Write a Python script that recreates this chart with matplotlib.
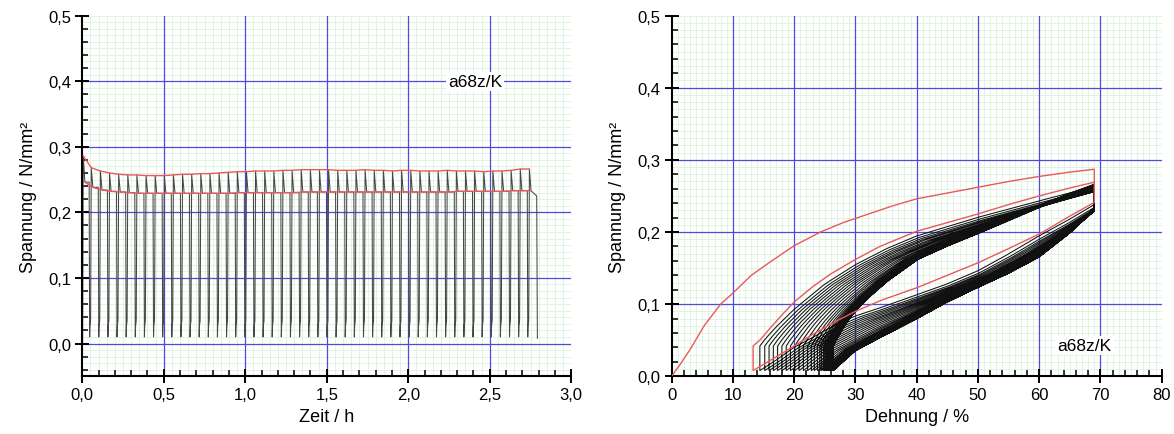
import numpy as np
import matplotlib.pyplot as plt
from matplotlib.ticker import MultipleLocator, FuncFormatter

plt.rcParams['font.family'] = ['Liberation Sans', 'DejaVu Sans']

# ---- values ----
# peak and relaxed stress of each of the 50 cycles (N/mm²)
peak = [0.286, 0.268, 0.263, 0.260, 0.258, 0.257, 0.257, 0.256, 0.256, 0.256,
        0.257, 0.258, 0.258, 0.259, 0.259, 0.260, 0.261, 0.262, 0.262, 0.263,
        0.263, 0.263, 0.264, 0.264, 0.265, 0.265, 0.265, 0.265, 0.264, 0.264,
        0.264, 0.265, 0.264, 0.264, 0.263, 0.264, 0.264, 0.263, 0.263, 0.263,
        0.264, 0.263, 0.263, 0.263, 0.262, 0.263, 0.263, 0.264, 0.266, 0.266]
relax = [0.246, 0.238, 0.234, 0.232, 0.231, 0.230, 0.229, 0.229, 0.229, 0.229,
         0.229, 0.229, 0.229, 0.229, 0.229, 0.229, 0.229, 0.230, 0.230, 0.230,
         0.230, 0.230, 0.230, 0.230, 0.231, 0.231, 0.231, 0.231, 0.231, 0.231,
         0.231, 0.231, 0.231, 0.231, 0.231, 0.231, 0.231, 0.231, 0.231, 0.231,
         0.231, 0.232, 0.232, 0.232, 0.232, 0.232, 0.232, 0.233, 0.233, 0.233]

# timing of the cycles (h)
t_first = 0.002
t_second = 0.051
period = 0.056
t_last_down = 2.788
s_min = 0.01
s_hook = 0.035
s_last_hold = 0.225

# strain at the start of each loading (cycle 0..49) and end of the last unloading (%)
eps_min = [0.0, 13.3, 14.4, 15.2, 15.9, 16.6, 17.3, 18.0, 18.7, 19.4,
           20.1, 20.8, 21.5, 22.2, 22.8, 23.3, 23.8, 24.2, 24.5, 24.8,
           25.0, 25.2, 25.35, 25.5, 25.6, 25.7, 25.75, 25.8, 25.85, 25.9,
           25.95, 26.0, 26.0, 26.05, 26.1, 26.1, 26.15, 26.2, 26.2, 26.2,
           26.25, 26.25, 26.3, 26.3, 26.3, 26.3, 26.35, 26.35, 26.35, 26.4, 26.4]
eps_max = 69.0

# first cycle (red) in the stress-strain plot
red_load1_eps = [0, 1.5, 3, 5.3, 8, 10.2, 13, 16, 20, 24.3, 28, 32.5, 36, 40, 45, 50, 55, 60, 65, 69]
red_load1_sig = [0, 0.018, 0.037, 0.07, 0.1, 0.117, 0.14, 0.158, 0.181, 0.2, 0.213, 0.226,
                 0.236, 0.246, 0.254, 0.262, 0.27, 0.277, 0.283, 0.287]
red_unload1_eps = [69, 65, 60.2, 55, 50.2, 45, 40.1, 34.1, 30, 27, 23, 20, 16.5, 13.3]
red_unload1_sig = [0.241, 0.222, 0.198, 0.177, 0.158, 0.14, 0.123, 0.105, 0.09, 0.077,
                   0.058, 0.042, 0.024, 0.008]
red_load2_eps = [13.3, 14.5, 16, 18, 20, 23, 26, 30, 34, 40, 45, 50, 55, 60, 65, 69]
red_load2_sig = [0.042, 0.051, 0.066, 0.085, 0.103, 0.124, 0.142, 0.162, 0.18, 0.201,
                 0.213, 0.225, 0.238, 0.25, 0.261, 0.269]

# first and last black loading / unloading curves
load_first_eps = [14.4, 15.3, 17, 20, 25, 30, 35, 40, 50, 60, 69]
load_first_sig = [0.042, 0.052, 0.068, 0.093, 0.128, 0.155, 0.177, 0.195, 0.221, 0.244, 0.264]
load_last_eps = [26.0, 26.6, 27.5, 28.5, 30, 32, 35, 40, 45, 50, 55, 60, 65, 69]
load_last_sig = [0.042, 0.052, 0.065, 0.078, 0.093, 0.11, 0.132, 0.162, 0.181, 0.198,
                 0.216, 0.234, 0.25, 0.262]
unload_first_eps = [14.4, 17, 20, 24, 27, 30, 35, 40, 45, 50, 55, 60, 65, 69]
unload_first_sig = [0.008, 0.022, 0.04, 0.058, 0.072, 0.083, 0.097, 0.112, 0.127, 0.145,
                    0.168, 0.193, 0.216, 0.236]
unload_last_eps = [26.4, 28, 30, 35, 40, 45, 50, 55, 60, 65, 69]
unload_last_sig = [0.008, 0.02, 0.035, 0.057, 0.078, 0.101, 0.121, 0.14, 0.162, 0.195, 0.227]

n = len(peak)

GREEN = '#dcf2dc'
BLUE = '#4b4bdc'
RED = '#e8595b'


def comma(v, _):
    return f'{v:.1f}'.replace('.', ',')


def blend(first_e, first_s, last_e, last_s, e0, s_end):
    # curve between the first and the last measured branch, ending at s_end
    u = np.linspace(0, 1, 80)
    fe = np.asarray(first_e, float)
    le = np.asarray(last_e, float)
    sf = np.interp(u, (fe - fe[0]) / (eps_max - fe[0]), first_s)
    sl = np.interp(u, (le - le[0]) / (eps_max - le[0]), last_s)
    w = np.clip((e0 - fe[0]) / (le[0] - fe[0]), 0, 1)
    s = (1 - w) * sf + w * sl
    s = s + (s_end - s[-1]) * u
    return e0 + u * (eps_max - e0), s


def style_axes(ax, xlim, ylim, xmaj, xmin_t, xgrid, ymaj, ymin_t, ygrid):
    ax.set_xlim(*xlim)
    ax.set_ylim(*ylim)
    # light green fine grid
    for x in np.arange(xlim[0] + xgrid, xlim[1] + 1e-9, xgrid):
        ax.axvline(x, color=GREEN, lw=0.6, zorder=0)
    for y in np.arange(ylim[0], ylim[1] + 1e-9, ygrid):
        ax.axhline(y, color=GREEN, lw=0.6, zorder=0)
    # blue main grid
    for x in np.arange(xlim[0] + xmaj, xlim[1] - 1e-9, xmaj):
        ax.axvline(x, color=BLUE, lw=0.9, zorder=1)
    for y in np.arange(0, ylim[1] - 1e-9, ymaj):
        if y > ylim[0] + 1e-9:
            ax.axhline(y, color=BLUE, lw=0.9, zorder=1)
    ax.xaxis.set_major_locator(MultipleLocator(xmaj))
    ax.xaxis.set_minor_locator(MultipleLocator(xmin_t))
    ax.yaxis.set_major_locator(MultipleLocator(ymaj))
    ax.yaxis.set_minor_locator(MultipleLocator(ymin_t))
    ax.yaxis.set_major_formatter(FuncFormatter(comma))
    for s in ['top', 'right']:
        ax.spines[s].set_visible(False)
    for s in ['left', 'bottom']:
        ax.spines[s].set_linewidth(1.5)
    ax.tick_params(which='major', direction='inout', length=10, width=1.4, labelsize=12, pad=3)
    ax.tick_params(which='minor', direction='in', length=4, width=1.1)


fig = plt.figure(figsize=(11.74, 4.35), dpi=100)
ax1 = fig.add_axes([0.0701, 0.1326, 0.4165, 0.8294])
ax2 = fig.add_axes([0.5721, 0.1326, 0.4174, 0.8294])

# ---- left: stress over time ----
t_up = np.r_[t_first, t_second + period * np.arange(n - 1)]
ts, ss = [], []
for k in range(n):
    t0 = t_up[k]
    ts += [t0, t0 + 0.004, t0 + 0.014]
    ss += [0.0 if k == 0 else s_hook, peak[k], relax[k]]
    if k < n - 1:
        td = t_up[k + 1] - 0.009
        ts += [td, td + 0.003, td + 0.005]
        ss += [relax[k], s_min, 0.027]
    else:
        ts += [t_last_down, t_last_down + 0.004]
        ss += [s_last_hold, 0.008]
ax1.plot(ts, ss, color='#474747', lw=0.75, zorder=2)
ax1.plot(t_up + 0.004, peak, color=RED, lw=1.0, zorder=3)
ax1.plot(t_up + 0.014, relax, color=RED, lw=1.0, zorder=3)

style_axes(ax1, (0, 3.0), (-0.05, 0.5), 0.5, 0.1, 0.05, 0.1, 0.02, 0.01)
ax1.xaxis.set_major_formatter(FuncFormatter(comma))
ax1.set_xlabel('Zeit / h', fontsize=13, labelpad=4)
ax1.set_ylabel('Spannung / N/mm²', fontsize=13, labelpad=8)
ax1.text(2.245, 0.4, 'a68z/K', fontsize=12.5, va='center', ha='left', zorder=4,
         bbox=dict(facecolor='white', edgecolor='none', pad=1.5))

# ---- right: stress over strain ----
es, sg = [], []
es += [eps_max, eps_max]
sg += [red_load2_sig[-1], relax[1]]
for k in range(1, n):
    e_u, s_u = blend(unload_first_eps, unload_first_sig, unload_last_eps, unload_last_sig,
                     eps_min[k + 1], relax[k])
    es += list(e_u[::-1])
    sg += list(s_u[::-1])
    if k + 1 < n:
        e_l, s_l = blend(load_first_eps, load_first_sig, load_last_eps, load_last_sig,
                         eps_min[k + 1], peak[k + 1])
        es += list(e_l)
        sg += list(s_l)
        es += [eps_max]
        sg += [relax[k + 1]]
ax2.plot(es, sg, color='#111111', lw=0.75, zorder=2)

red_e = red_load1_eps + red_unload1_eps + red_load2_eps
red_s = red_load1_sig + red_unload1_sig + red_load2_sig
ax2.plot(red_e, red_s, color=RED, lw=1.0, zorder=3)

style_axes(ax2, (0, 80), (0, 0.5), 10, 2, 1, 0.1, 0.02, 0.01)
ax2.xaxis.set_major_formatter(FuncFormatter(lambda v, _: f'{v:.0f}'))
ax2.set_xlabel('Dehnung / %', fontsize=13, labelpad=4)
ax2.set_ylabel('Spannung / N/mm²', fontsize=13, labelpad=8)
ax2.text(63.0, 0.043, 'a68z/K', fontsize=12.5, va='center', ha='left', zorder=4,
         bbox=dict(facecolor='white', edgecolor='none', pad=1.5))

fig.savefig('out.png', dpi=100)
